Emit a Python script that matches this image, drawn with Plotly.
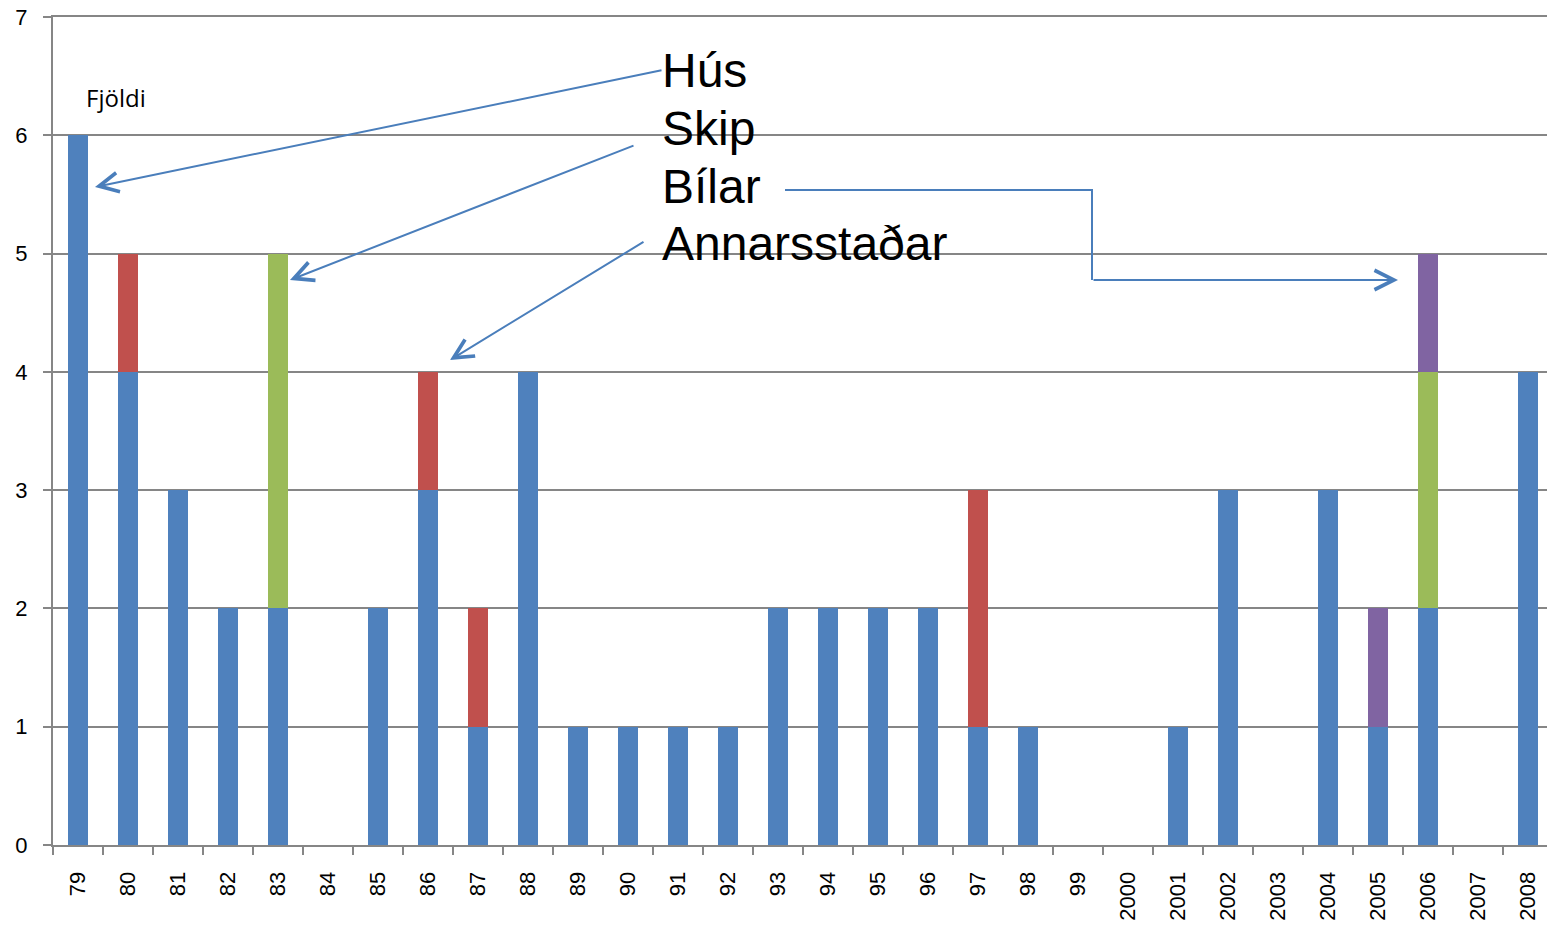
import plotly.graph_objects as go

years = ["79", "80", "81", "82", "83", "84", "85", "86", "87", "88", "89", "90", "91", "92",
         "93", "94", "95", "96", "97", "98", "99", "2000", "2001", "2002", "2003", "2004",
         "2005", "2006", "2007", "2008"]
hus =          [6, 4, 3, 2, 2, 0, 2, 3, 1, 4, 1, 1, 1, 1, 2, 2, 2, 2, 1, 1, 0, 0, 1, 3, 0, 3, 1, 2, 0, 4]
skip =         [0, 0, 0, 0, 3, 0, 0, 0, 0, 0, 0, 0, 0, 0, 0, 0, 0, 0, 0, 0, 0, 0, 0, 0, 0, 0, 0, 2, 0, 0]
bilar =        [0, 0, 0, 0, 0, 0, 0, 0, 0, 0, 0, 0, 0, 0, 0, 0, 0, 0, 0, 0, 0, 0, 0, 0, 0, 0, 1, 1, 0, 0]
annarsstadar = [0, 1, 0, 0, 0, 0, 0, 1, 1, 0, 0, 0, 0, 0, 0, 0, 0, 0, 2, 0, 0, 0, 0, 0, 0, 0, 0, 0, 0, 0]

series = [("Hús", hus, "#4F81BD"), ("Skip", skip, "#9BBB59"),
          ("Bílar", bilar, "#8064A2"), ("Annarsstaðar", annarsstadar, "#C0504D")]

W, H = 1547, 927
L, T, B = 53, 17, 82
plot_h = H - T - B
cat_w = 50.0
YMAX = 7

def xd(px):  # window pixel -> category index
    return (px - L) / cat_w - 0.5

def yd(py):  # window pixel -> value
    return (H - B - py) / plot_h * YMAX

fig = go.Figure()
for name, vals, col in series:
    fig.add_trace(go.Bar(x=years, y=vals, name=name, marker=dict(color=col, line=dict(width=0)),
                         showlegend=False))

arrow_col = "#4A7EBB"
font_big = dict(family="Liberation Sans, Arial", size=48, color="black")

labels = [("Hús", 70), ("Skip", 128), ("Bílar", 186), ("Annarsstaðar", 243)]
annotations = []
for txt, py in labels:
    annotations.append(dict(x=xd(660), y=yd(py), xref="x", yref="y", text=txt, showarrow=False,
                            xanchor="left", yanchor="middle", font=font_big))

arrows = [((663, 70), (95, 187)), ((635, 145), (290, 280)), ((645, 241), (450, 360)),
          ((1092, 280), (1398, 280))]
for (tx, ty), (hx, hy) in arrows:
    annotations.append(dict(x=xd(hx), y=yd(hy), ax=xd(tx), ay=yd(ty), xref="x", yref="y",
                            axref="x", ayref="y", text="", showarrow=True, arrowhead=5,
                            arrowsize=1.9, arrowwidth=2, arrowcolor=arrow_col, standoff=0))

annotations.append(dict(x=xd(84), y=yd(97), xref="x", yref="y", text="Fjöldi", showarrow=False,
                        xanchor="left", yanchor="middle",
                        font=dict(family="Open Sans, Noto Sans", size=24, color="black")))

shapes = [dict(type="path", xref="x", yref="y",
               path=f"M {xd(785)},{yd(190)} L {xd(1092)},{yd(190)} L {xd(1092)},{yd(280)}",
               line=dict(color=arrow_col, width=2))]

fig.update_layout(
    width=W, height=H,
    margin=dict(l=L, r=0, t=T, b=B),
    plot_bgcolor="white", paper_bgcolor="white",
    barmode="stack", bargap=0.6,
    annotations=annotations, shapes=shapes,
    xaxis=dict(type="category", range=[-0.5, (W - L) / cat_w - 0.5], showline=True, mirror=True,
               linecolor="#868686", linewidth=2, ticks="outside", tickson="boundaries",
               ticklen=8, tickwidth=2, tickcolor="#868686", tickangle=-90,
               tickfont=dict(family="Liberation Sans, Arial", size=22, color="black"),
               ticklabelstandoff=16, showgrid=False),
    yaxis=dict(range=[0, YMAX], tick0=0, dtick=1, showline=True, linecolor="#868686", linewidth=2,
               ticks="outside", ticklen=8, tickwidth=2, tickcolor="#868686",
               showgrid=True, gridcolor="#868686", gridwidth=2,
               tickfont=dict(family="Liberation Sans, Arial", size=22, color="black"),
               ticklabelstandoff=11, zeroline=False),
)

fig.write_html("out.html", config={"displayModeBar": False},
               post_script="document.body.style.margin='0';document.body.style.overflow='hidden';")
